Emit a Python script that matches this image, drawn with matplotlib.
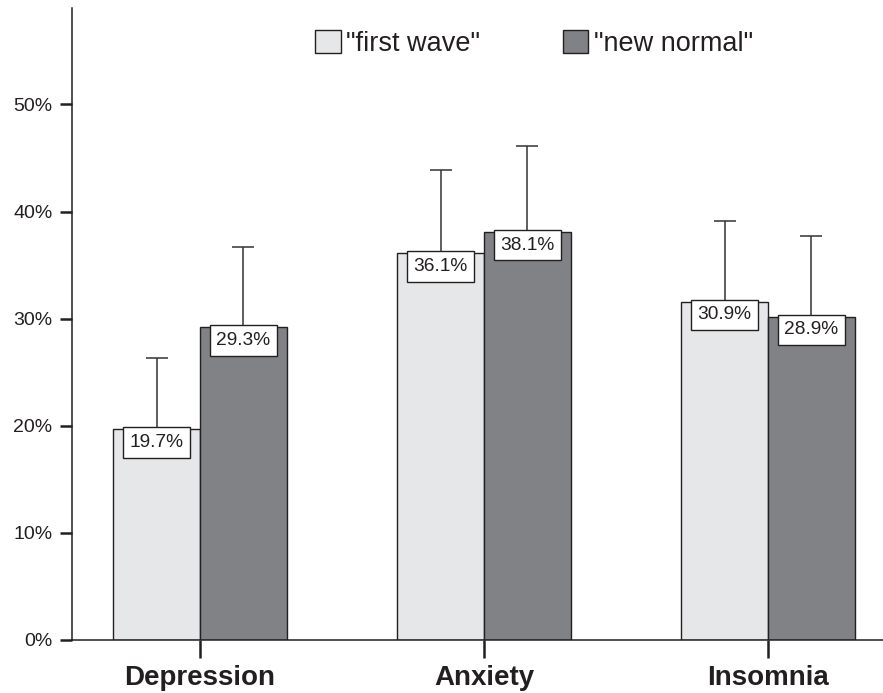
import matplotlib.pyplot as plt
import matplotlib.patches as mpatches
import numpy as np

plt.rcParams['font.family'] = ['Liberation Sans', 'DejaVu Sans']

categories = ['Depression', 'Anxiety', 'Insomnia']
series_names = ['"first wave"', '"new normal"']
first_wave = [19.7, 36.1, 31.6]
new_normal = [29.2, 38.1, 30.2]
first_wave_err = [6.6, 7.8, 7.5]
new_normal_err = [7.5, 8.0, 7.5]
first_wave_labels = ['19.7%', '36.1%', '30.9%']
new_normal_labels = ['29.3%', '38.1%', '28.9%']
yticks = [0, 10, 20, 30, 40, 50]

dark = '#231f20'
fw_color = '#e6e7e8'
nw_color = '#808285'

fig = plt.figure(figsize=(8.83, 6.93), dpi=100)
ax = fig.add_axes([72 / 883, 53 / 693, 811 / 883, 632 / 693])

x = np.arange(len(categories))
w = 0.306

ekw = dict(ecolor='#333333', elinewidth=1.1, capthick=1.1)
b1 = ax.bar(x - w / 2, first_wave, w, color=fw_color, edgecolor=dark, linewidth=1.0,
            yerr=[np.zeros(3), first_wave_err], capsize=7.9, error_kw=ekw)
b2 = ax.bar(x + w / 2, new_normal, w, color=nw_color, edgecolor=dark, linewidth=1.0,
            yerr=[np.zeros(3), new_normal_err], capsize=7.9, error_kw=ekw)

# only the upper whisker has a cap
for cont, vals in [(b1, first_wave), (b2, new_normal)]:
    for cap in cont.errorbar.lines[1]:
        if np.allclose(cap.get_ydata(), vals):
            cap.set_visible(False)

box = dict(boxstyle='square,pad=0.35', fc='white', ec=dark, lw=1.0)
for i in range(len(categories)):
    ax.annotate(first_wave_labels[i], (x[i] - w / 2, first_wave[i]), xytext=(0, -3.5),
                textcoords='offset points', ha='center', va='top', fontsize=13.8,
                color=dark, bbox=box, zorder=5)
    ax.annotate(new_normal_labels[i], (x[i] + w / 2, new_normal[i]), xytext=(0, -3.5),
                textcoords='offset points', ha='center', va='top', fontsize=13.8,
                color=dark, bbox=box, zorder=5)

ax.set_xlim(-128 / 284, 2 + 115 / 284)
ax.set_ylim(0, 59)
ax.set_yticks(yticks)
ax.set_yticklabels([f'{t}%' for t in yticks], fontsize=14, color=dark)
ax.set_xticks(x)
ax.set_xticklabels(categories, fontsize=20, fontweight='bold', color=dark)
ax.tick_params(axis='y', length=9, width=1.8, pad=5, color=dark)
ax.tick_params(axis='x', length=13, width=1.8, pad=5, color=dark)

for s in ['top', 'right']:
    ax.spines[s].set_visible(False)
for s in ['left', 'bottom']:
    ax.spines[s].set_color(dark)
    ax.spines[s].set_linewidth(1.1)

handles = [mpatches.Patch(facecolor=fw_color, edgecolor=dark, linewidth=1.0),
           mpatches.Patch(facecolor=nw_color, edgecolor=dark, linewidth=1.0)]
fig.legend(handles, series_names, loc='upper left', bbox_to_anchor=(315 / 883, 1 - 30 / 693),
           ncol=2, frameon=False, fontsize=19.5, handlelength=0.95, handleheight=0.95,
           handletextpad=0.2, columnspacing=3.05, borderpad=0, borderaxespad=0,
           labelcolor=dark)

fig.savefig('out.png', dpi=100)
